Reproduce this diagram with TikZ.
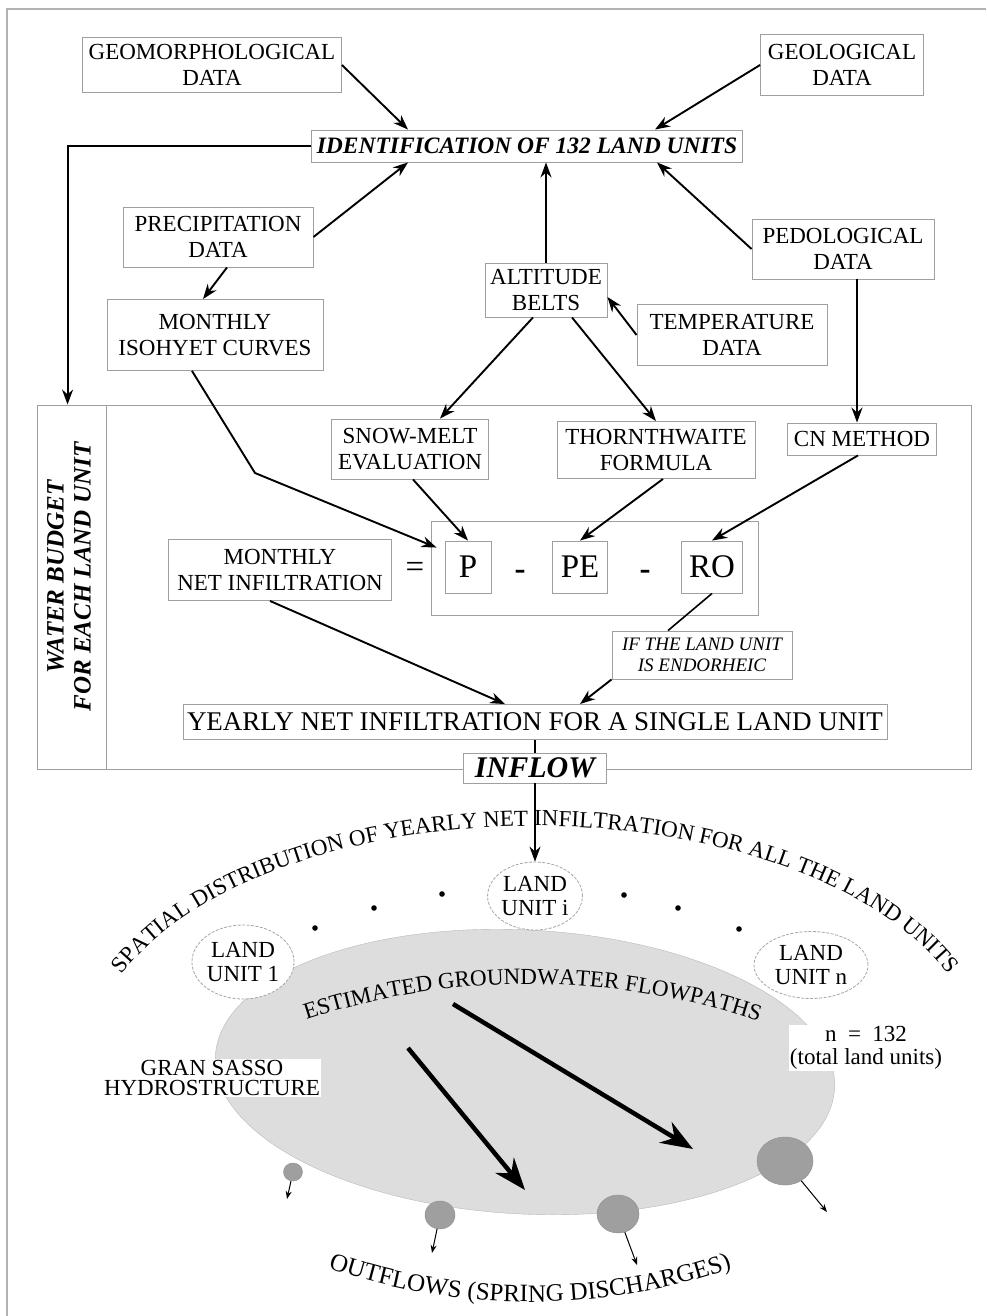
\documentclass[tikz,border=0pt]{standalone}
\usepackage{fontspec}
\setmainfont{Liberation Serif}
\usetikzlibrary{arrows.meta, shapes.geometric, positioning, calc, decorations.text}

\tikzset{
  box/.style={draw=gray!75, line width=0.9pt, align=center, inner sep=2pt,
    font=\fontsize{23}{26.5}\selectfont},
  unit/.style={ellipse, draw=gray!70, dash pattern=on 3pt off 1.5pt, line width=0.8pt,
    fill=white, align=center, inner sep=0pt, font=\fontsize{23}{24}\selectfont},
  link/.style={line width=1.9pt, -{Stealth[length=15pt, width=11pt]}},
  plain/.style={line width=1.6pt},
  flow/.style={line width=4.5pt, -{Stealth[length=32pt, width=24pt]}},
  spring/.style={ellipse, fill=gray!75, draw=gray!85, line width=0.5pt, inner sep=0pt},
  outlet/.style={line width=1pt, -{Stealth[length=8pt, width=6pt]}},
  bigsign/.style={font=\fontsize{33}{33}\selectfont, inner sep=0pt},
}

\begin{document}
\begin{tikzpicture}[x=1pt, y=-1pt]
\useasboundingbox (0,0) rectangle (986,1316);
\draw[gray!60, line width=2pt] (7,1316) -- (7,9) -- (986,9);

% hydrostructure
\draw[draw=gray!55, fill=gray!27, rotate around={-3:(525,1072)}] (525,1072) ellipse [x radius=310, y radius=142];

% curved labels
\path[decorate, decoration={text along path, text align=center,
  text={|\fontsize{23}{23}\selectfont|SPATIAL DISTRIBUTION OF YEARLY NET INFILTRATION FOR ALL THE LAND UNITS}}]
  (535,1062) ++(-159:445 and 236) arc [start angle=-159, end angle=-21, x radius=445, y radius=236];
\path[decorate, decoration={text along path, text align=center,
  text={|\fontsize{23}{23}\selectfont|ESTIMATED GROUNDWATER FLOWPATHS}}]
  (530,1704) ++(-108.2:720) arc [start angle=-108.2, end angle=-71.4, radius=720];
\path[decorate, decoration={text along path, text align=center,
  text={|\fontsize{25}{25}\selectfont|OUTFLOWS (SPRING DISCHARGES)}}]
  (530,684) ++(110:618) arc [start angle=110, end angle=70, radius=618];

% data sources
\node[box, minimum width=259, minimum height=55] (geomorph) at (212,65) {GEOMORPHOLOGICAL\\DATA};
\node[box, minimum width=163, minimum height=61] (geolog) at (842,65) {GEOLOGICAL\\DATA};
\node[box, minimum width=431, minimum height=32, font=\fontsize{23.5}{26}\selectfont\bfseries\itshape] (ident) at (527,146) {IDENTIFICATION OF 132 LAND UNITS};
\node[box, minimum width=190, minimum height=60] (precip) at (218,237) {PRECIPITATION\\DATA};
\node[box, minimum width=216, minimum height=71] (isohyet) at (215,335) {MONTHLY\\ISOHYET CURVES};
\node[box, minimum width=122, minimum height=54] (altitude) at (546,290) {ALTITUDE\\BELTS};
\node[box, minimum width=182, minimum height=60] (pedolog) at (843,249) {PEDOLOGICAL\\DATA};
\node[box, minimum width=190, minimum height=61] (temper) at (732,335) {TEMPERATURE\\DATA};

% water budget
\node[box, minimum width=934, minimum height=364] (budget) at (504,587) {};
\draw[draw=gray!75, line width=0.9pt] (106,405) -- (106,769);
\node[rotate=90, align=center, font=\fontsize{25}{27}\selectfont\bfseries\itshape] (budgettitle) at (69,577) {WATER BUDGET\\FOR EACH LAND UNIT};
\node[box, minimum width=157, minimum height=60] (snowmelt) at (410,449) {SNOW-MELT\\EVALUATION};
\node[box, minimum width=198, minimum height=57] (thornth) at (656,450) {THORNTHWAITE\\FORMULA};
\node[box, minimum width=149, minimum height=32] (cnmethod) at (862,439) {CN METHOD};
\node[box, minimum width=327, minimum height=94] (eqbox) at (594.5,568) {};
\node[box, bigsign, minimum width=46, minimum height=52] (pbox) at (468,567) {P};
\node[box, bigsign, minimum width=55, minimum height=52] (pebox) at (580,567) {PE};
\node[box, bigsign, minimum width=61, minimum height=52] (robox) at (712,567) {RO};
\node[bigsign] (minusa) at (520,575) {\textbf{-}};
\node[bigsign] (minusb) at (645,575) {\textbf{-}};
\node[bigsign] (equals) at (415,570) {=};
\node[box, minimum width=223, minimum height=61] (netinf) at (280,570) {MONTHLY\\NET INFILTRATION};
\node[box, minimum width=180, minimum height=48, font=\fontsize{19}{21}\selectfont\itshape] (endorheic) at (702,655) {IF THE LAND UNIT\\IS ENDORHEIC};
\node[box, minimum width=704, minimum height=35, font=\fontsize{27}{28}\selectfont] (yearly) at (535,722) {YEARLY NET INFILTRATION FOR A SINGLE LAND UNIT};
\node[box, fill=white, minimum width=143, minimum height=30, font=\fontsize{30}{30}\selectfont\bfseries\itshape] (inflow) at (535,768) {INFLOW};

% land units
\node[unit, minimum width=96, minimum height=74] (unitone) at (243,962) {LAND\\UNIT 1};
\node[unit, minimum width=93, minimum height=68] (uniti) at (535,896) {LAND\\UNIT i};
\node[unit, minimum width=114, minimum height=67] (unitn) at (811,965) {LAND\\UNIT n};
\foreach \dx/\dy in {315/928, 374/908, 442/894, 624/895, 678/908, 739/929}
  \fill (\dx,\dy) circle [radius=2.8];

\node[fill=white, inner sep=1pt, align=center, font=\fontsize{23}{20}\selectfont] (gransasso) at (212,1078) {GRAN SASSO\\HYDROSTRUCTURE};
\node[fill=white, inner sep=1pt, align=center, font=\fontsize{23}{23}\selectfont] (ncount) at (866,1048) {n\enspace=\enspace132\\(total land units)};

% springs
\node[spring, minimum width=19, minimum height=18] (sone) at (293,1172) {};
\node[spring, minimum width=30, minimum height=28] (stwo) at (440,1215) {};
\node[spring, minimum width=42, minimum height=38] (sthree) at (618,1214) {};
\node[spring, minimum width=56, minimum height=48] (sfour) at (785,1161) {};
\coordinate (oone) at (287,1199);
\coordinate (otwo) at (432,1253);
\coordinate (othree) at (637,1265);
\coordinate (ofour) at (827,1212);
\draw[outlet] (sone) -- (oone);
\draw[outlet] (stwo) -- (otwo);
\draw[outlet] (sthree) -- (othree);
\draw[outlet] (sfour) -- (ofour);

% flowpaths
\coordinate (fa) at (408,1048);
\coordinate (fb) at (525,1190);
\coordinate (fc) at (453,1004);
\coordinate (fd) at (693,1149);
\draw[flow] (fa) -- (fb);
\draw[flow] (fc) -- (fd);

% connectors
\draw[link] (geomorph.east) -- ($(ident.north)+(-119,0)$);
\draw[link] (geolog.west) -- ($(ident.north)+(128,0)$);
\draw[link] (precip.east) -- ($(ident.south)+(-119,0)$);
\draw[link] ($(precip.south)+(9,0)$) -- ($(isohyet.north)+(-12,0)$);
\draw[link] (altitude.north) -- (altitude.north |- ident.south);
\draw[link] (pedolog.west) -- ($(ident.south)+(130,0)$);
\draw[link] (temper.west) -- ($(altitude.east)+(0,7)$);
\draw[link] ($(altitude.south)+(-13,0)$) -- ($(snowmelt.north)+(30,0)$);
\draw[link] ($(altitude.south)+(26,0)$) -- (thornth.north);
\draw[link] ($(pedolog.south)+(14,0)$) -- ($(cnmethod.north)+(-5,0)$);
\draw[link] (ident.west) -| ($(budget.north west)+(31,0)$);
\coordinate (bend) at (255,473);
\draw[link] ($(isohyet.south)+(-23,0)$) -- (bend) -- ($(pbox.north west)+(-8,7)$);
\draw[link] ($(snowmelt.south)+(3,0)$) -- (pbox.north);
\draw[link] ($(thornth.south)+(7,0)$) -- (pebox.north);
\draw[link] ($(cnmethod.south)+(-4,0)$) -- (robox.north);
\draw[plain] (robox.south) -- ($(endorheic.north)+(-34,0)$);
\draw[link] (endorheic.south west) -- ($(yearly.north)+(45,0)$);
\draw[link] ($(netinf.south)+(-10,0)$) -- ($(yearly.north)+(-30,0)$);
\draw[plain] (yearly.south) -- (inflow.north);
\draw[link] (inflow.south) -- (uniti.north);
\end{tikzpicture}
\end{document}
